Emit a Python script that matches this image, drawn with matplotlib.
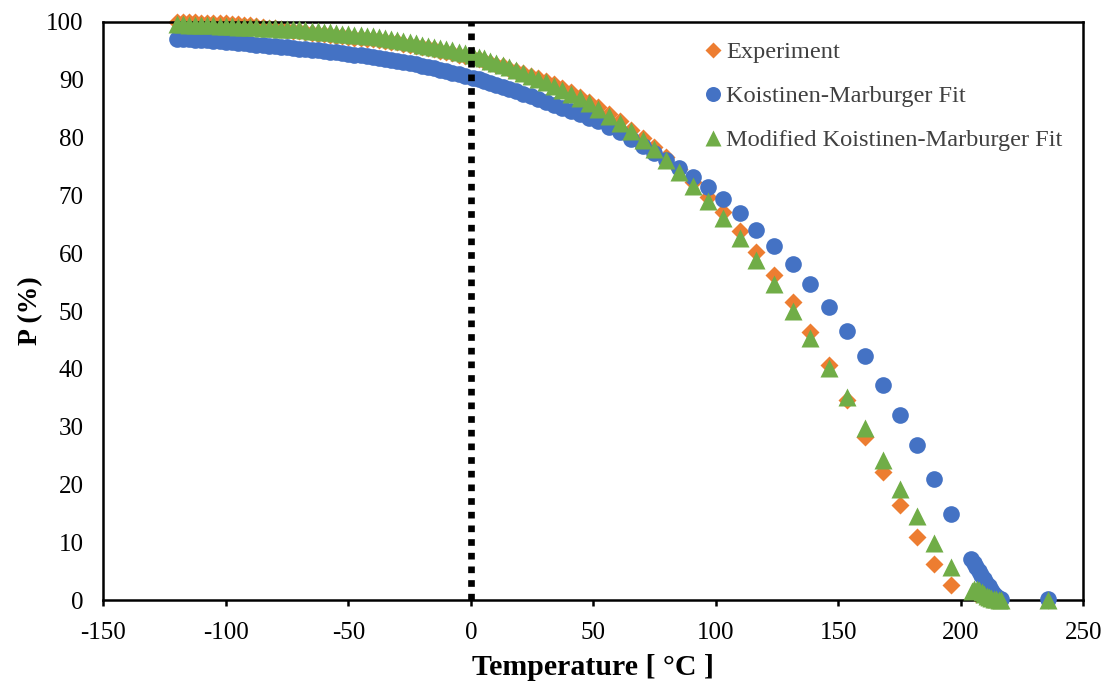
import matplotlib
matplotlib.use("Agg")
import matplotlib.pyplot as plt

plt.rcParams['font.family'] = ['Liberation Serif', 'DejaVu Serif']
plt.rcParams['axes.unicode_minus'] = False

# temperatures shared by the three series (deg C)
temp_main = [-120, -117.5, -115, -112.5, -110, -107.5, -105, -102.5, -100, -97.5,
             -95, -92.5, -90, -87.5, -85, -82.5, -80, -77.5, -75, -72.5,
             -70, -67.5, -65, -62.5, -60, -57.5, -55, -52.5, -50, -47.5,
             -45, -42.5, -40, -37.5, -35, -32.5, -30, -27.5, -25, -22.5,
             -20, -17.5, -15, -12.5, -10, -7.5, -5, -2.5,
             1.0, 3.2, 5.5, 7.9, 10.4, 13.0, 15.7, 18.5, 21.4, 24.4,
             27.5, 30.7, 34.0, 37.4, 40.9, 44.5, 48.2, 52.0, 56.4, 60.7,
             65.3, 70.1, 74.9, 79.7, 85.1, 90.7, 96.9, 103.1, 109.7, 116.6,
             123.9, 131.3, 138.6, 146.3, 153.4, 160.8, 168.2, 175.3, 182.3, 189.1,
             196.0]

exp_main = [100.0, 100.0, 100.0, 99.95, 99.9, 99.9, 99.85, 99.8, 99.75, 99.7,
            99.6, 99.5, 99.4, 99.3, 99.2, 99.0, 98.9, 98.75, 98.6, 98.5,
            98.35, 98.2, 98.1, 98.0, 97.85, 97.75, 97.6, 97.5, 97.4, 97.3,
            97.2, 97.1, 97.0, 96.9, 96.75, 96.6, 96.45, 96.25, 96.05, 95.85,
            95.65, 95.45, 95.25, 95.05, 94.85, 94.6, 94.35, 94.1,
            93.8, 93.55, 93.25, 92.9, 92.6, 92.3, 91.9, 91.5, 91.1, 90.7,
            90.3, 89.8, 89.2, 88.6, 87.9, 87.1, 86.2, 85.3, 84.1, 82.8,
            81.4, 79.9, 78.4, 76.6, 74.6, 72.4, 69.8, 67.1, 63.9, 60.3,
            56.2, 51.6, 46.4, 40.7, 34.6, 28.2, 22.1, 16.4, 11.0, 6.2,
            2.7]

km_main = [97.1, 97.05, 97.0, 96.9, 96.85, 96.8, 96.7, 96.65, 96.55, 96.5,
           96.4, 96.3, 96.2, 96.1, 96.0, 95.9, 95.8, 95.7, 95.6, 95.5,
           95.4, 95.3, 95.2, 95.1, 95.0, 94.85, 94.75, 94.6, 94.5, 94.35,
           94.2, 94.1, 93.95, 93.8, 93.6, 93.45, 93.25, 93.05, 92.85, 92.65,
           92.45, 92.2, 92.0, 91.75, 91.5, 91.25, 91.0, 90.7,
           90.3, 90.05, 89.8, 89.5, 89.15, 88.8, 88.45, 88.05, 87.6, 87.15,
           86.7, 86.2, 85.7, 85.15, 84.6, 84.0, 83.4, 82.8, 81.9, 80.9,
           79.7, 78.5, 77.3, 76.2, 74.8, 73.2, 71.4, 69.3, 66.9, 64.1,
           61.2, 58.1, 54.6, 50.7, 46.6, 42.2, 37.2, 32.1, 26.9, 20.9,
           15.0]

mkm_main = [99.6, 99.6, 99.55, 99.5, 99.5, 99.45, 99.4, 99.35, 99.3, 99.25,
            99.2, 99.15, 99.1, 99.05, 99.0, 98.95, 98.9, 98.85, 98.8, 98.75,
            98.7, 98.6, 98.5, 98.4, 98.3, 98.2, 98.1, 98.0, 97.9, 97.8,
            97.7, 97.6, 97.5, 97.35, 97.2, 97.05, 96.9, 96.7, 96.5, 96.3,
            96.1, 95.9, 95.7, 95.5, 95.3, 95.1, 94.85, 94.6,
            94.3, 94.0, 93.7, 93.3, 92.95, 92.6, 92.2, 91.7, 91.2, 90.7,
            90.2, 89.6, 88.9, 88.3, 87.6, 86.8, 85.9, 85.0, 83.8, 82.5,
            81.1, 79.6, 78.0, 76.2, 74.1, 71.7, 69.0, 66.1, 62.6, 58.8,
            54.6, 50.0, 45.4, 40.1, 35.1, 29.8, 24.3, 19.3, 14.5, 9.9,
            5.7]

# end of transformation, points bunch up near 205-217 deg C
exp_tail_t = [206.0, 208.0, 210.0, 212.0, 214.0, 216.0, 235.5]
exp_tail_p = [1.0, 0.9, 0.8, 0.7, 0.5, 0.2, 0.0]
km_tail_t = [204.3, 205.3, 206.3, 207.3, 208.3, 209.3, 210.3, 211.3, 212.3, 213.3,
             214.3, 215.3, 216.3, 235.5]
km_tail_p = [7.2, 6.5, 5.8, 5.1, 4.4, 3.7, 3.0, 2.4, 1.8, 1.2,
             0.7, 0.4, 0.2, 0.2]
mkm_tail_t = [204.5, 205.5, 206.5, 207.5, 208.5, 209.5, 210.5, 211.5, 212.5, 213.5,
              214.5, 215.5, 216.5, 235.5]
mkm_tail_p = [1.6, 2.0, 1.9, 1.7, 1.4, 1.1, 0.8, 0.6, 0.4, 0.3,
              0.2, 0.1, 0.0, 0.0]

fig = plt.figure(figsize=(11.1, 6.86), dpi=100)
ax = fig.add_axes([0.093, 0.125, 0.883, 0.843])

ax.plot(temp_main + exp_tail_t, exp_main + exp_tail_p, linestyle='none', marker='D',
        ms=9.3, color='#ED7D31', mec='none', label='Experiment', zorder=2, clip_on=False)
ax.plot(temp_main + km_tail_t, km_main + km_tail_p, linestyle='none', marker='o',
        ms=12, color='#4472C4', mec='none', label='Koistinen-Marburger Fit', zorder=3, clip_on=False)
ax.plot(temp_main + mkm_tail_t, mkm_main + mkm_tail_p, linestyle='none', marker='^',
        ms=12.5, color='#70AD47', mec='none', label='Modified Koistinen-Marburger Fit', zorder=4, clip_on=False)

# Ms / room temperature marker at 0 deg C
ax.axvline(0, color='black', lw=4.8, dashes=(1, 1.05), dash_capstyle='butt', zorder=5)

ax.set_xlim(-150, 250)
ax.set_ylim(0, 100)
ax.set_xticks(range(-150, 251, 50))
ax.set_yticks(range(0, 101, 10))
ax.tick_params(axis='x', length=4, width=1.8, pad=12, labelsize=18, direction='out')
ax.tick_params(axis='y', length=0, pad=14, labelsize=18)
for s in ax.spines.values():
    s.set_linewidth(1.8)

ax.set_xlabel('Temperature [ °C ]', fontsize=21.5, fontweight='bold', labelpad=7)
ax.set_ylabel('P (%)', fontsize=20, fontweight='bold', labelpad=2)

leg = ax.legend(loc='upper left', bbox_to_anchor=(0.613, 0.967), frameon=False,
                fontsize=17.6, handlelength=0.75, handletextpad=0.15, labelspacing=0.9,
                borderpad=0, borderaxespad=0, markerscale=0.9)
for t in leg.get_texts():
    t.set_color('#404040')

fig.savefig('out.png', dpi=100)
